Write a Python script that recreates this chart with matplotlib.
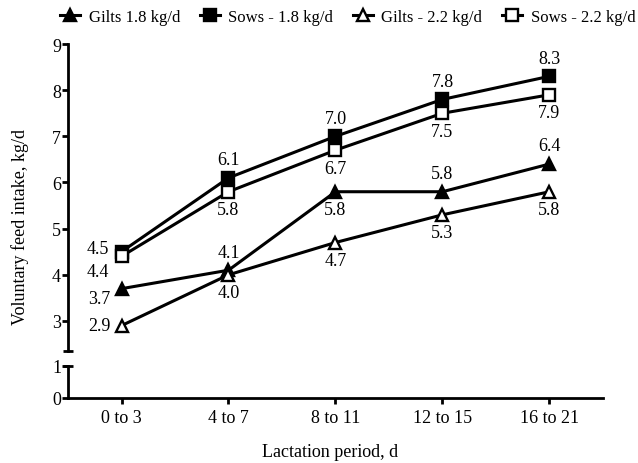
import matplotlib.pyplot as plt

plt.rcParams['font.family'] = ['Liberation Serif', 'DejaVu Serif']

periods = ['0 to 3', '4 to 7', '8 to 11', '12 to 15', '16 to 21']
gilts_18 = [3.7, 4.1, 5.8, 5.8, 6.4]
sows_18 = [4.5, 6.1, 7.0, 7.8, 8.3]
gilts_22 = [2.9, 4.0, 4.7, 5.3, 5.8]
sows_22 = [4.4, 5.8, 6.7, 7.5, 7.9]
upper_ticks = [3, 4, 5, 6, 7, 8, 9]
lower_ticks = [0, 1]

# where each value label sits relative to its marker
offsets = {
    'above': (0, 13),
    'below': (0, -13),
    'left_up': (-17, 2),
    'left_down': (-17, -11),
    'left_low': (-16, -7),
    'left': (-16, 0),
}

fig = plt.figure(figsize=(6.38, 4.64), dpi=100)
left, right = 0.1066, 0.945
ax = fig.add_axes([left, 0.2414, right - left, 0.903 - 0.2414])
ax_low = fig.add_axes([left, 0.1401, right - left, 0.2091 - 0.1401])

x = list(range(len(periods)))
series = [
    ('Gilts 1.8 kg/d', gilts_18, '^', 'black',
     ['left_low', 'above', 'below', 'above', 'above']),
    ('Sows - 1.8 kg/d', sows_18, 's', 'black',
     ['left_up', 'above', 'above', 'above', 'above']),
    ('Gilts - 2.2 kg/d', gilts_22, '^', 'white',
     ['left', 'below', 'below', 'below', 'below']),
    ('Sows - 2.2 kg/d', sows_22, 's', 'white',
     ['left_down', 'below', 'below', 'below', 'below']),
]

handles = []
for name, vals, mk, face, pos in series:
    h, = ax.plot(x, vals, color='black', lw=2.2, marker=mk, markersize=8.5,
                 markerfacecolor=face, markeredgecolor='black',
                 markeredgewidth=1.7, label=name, clip_on=False)
    handles.append(h)
    for xi, v, p in zip(x, vals, pos):
        ax.annotate(f'{v:.1f}', (xi, v), xytext=offsets[p],
                    textcoords='offset points', ha='center', va='center',
                    fontsize=13)

ax.set_xlim(-0.5, 4.5)
ax.set_ylim(2.35, 9)
ax.set_yticks(upper_ticks)
ax.set_xticks([])
for s in ['top', 'right', 'bottom']:
    ax.spines[s].set_visible(False)
ax.spines['left'].set_linewidth(2)
ax.tick_params(axis='y', length=4, width=2, labelsize=13, pad=1)

ax_low.set_xlim(-0.5, 4.5)
ax_low.set_ylim(0, 1)
ax_low.set_yticks(lower_ticks)
ax_low.set_xticks(x)
ax_low.set_xticklabels(periods)
for s in ['top', 'right']:
    ax_low.spines[s].set_visible(False)
ax_low.spines['left'].set_linewidth(2)
ax_low.spines['bottom'].set_linewidth(2)
ax_low.tick_params(axis='y', length=4, width=2, labelsize=13, pad=1)
ax_low.tick_params(axis='x', length=4, width=2, labelsize=13, pad=4)

# caps at the axis break
ax.plot([-0.009, 0.009], [0, 0], transform=ax.transAxes, color='black',
        lw=2, clip_on=False, solid_capstyle='butt')
ax_low.plot([-0.009, 0.009], [1, 1], transform=ax_low.transAxes,
            color='black', lw=2, clip_on=False, solid_capstyle='butt')

fig.text(0.032, 1 - 227 / 464, 'Voluntary feed intake, kg/d', rotation=90,
         ha='center', va='center', fontsize=13)
fig.text(330 / 638, 1 - 453 / 464, 'Lactation period, d', ha='center',
         va='center', fontsize=13)

fig.legend(handles=handles, loc='center', bbox_to_anchor=(0.545, 0.961),
           ncol=4, frameon=False, fontsize=12, handlelength=1.2,
           handletextpad=0.5, columnspacing=1.2, borderaxespad=0)

fig.savefig('out.png', dpi=100)
